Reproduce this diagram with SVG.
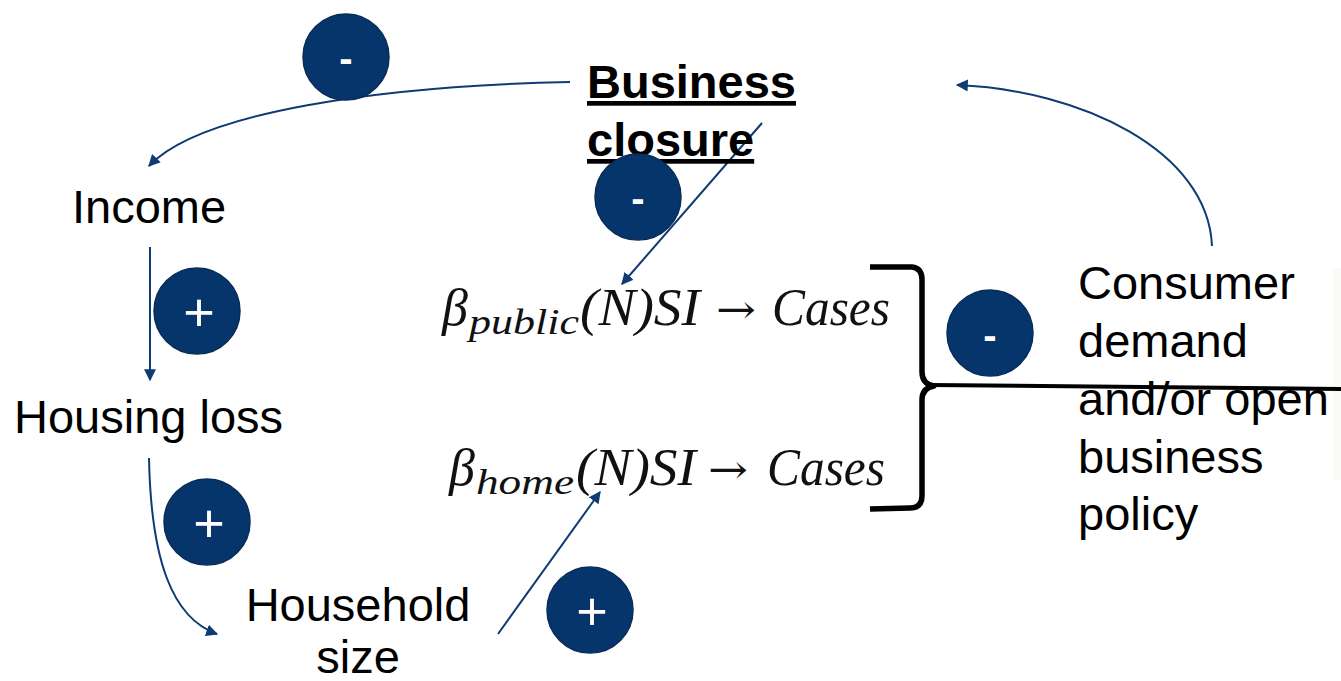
<svg xmlns="http://www.w3.org/2000/svg" width="1341" height="681" viewBox="0 0 1341 681">
<style>
.lbl{font-family:"Liberation Sans",Arial,sans-serif;font-size:47px;fill:#000}
.bold{font-weight:bold;text-decoration:underline}
.eq{font-family:"Liberation Serif","Times New Roman",serif;font-style:italic;font-size:52px;fill:#111}
.sub{font-size:36px}
.arr{font-family:"DejaVu Serif",serif;font-size:40px;fill:#111}
.sign circle{fill:#05356b;stroke:#0a2b55;stroke-width:1.5}
.sign text{font-family:"Liberation Sans",Arial,sans-serif;fill:#fff;text-anchor:middle}
.conn{fill:none;stroke:#0d3b72;stroke-width:2}
</style>
<defs>
<marker id="ahb" viewBox="0 0 10 10" refX="9" refY="5" markerWidth="12" markerHeight="12" markerUnits="userSpaceOnUse" orient="auto">
<path d="M0,0 L10,5 L0,10 z" fill="#0d3b72"/>
</marker>
</defs>
<rect width="1341" height="681" fill="#fff"/>
<rect x="1333" y="268" width="8" height="212" fill="#fafaf6"/>

<g id="connectors">
<path class="conn" d="M570,82 C380,86 200,112 149,166" marker-end="url(#ahb)"/>
<path class="conn" d="M150,247 L150,380" marker-end="url(#ahb)"/>
<path class="conn" d="M149,458 C151,560 172,618 217,634" marker-end="url(#ahb)"/>
<path class="conn" d="M498,634 L600,492" marker-end="url(#ahb)"/>
<path class="conn" d="M762,123 L622,284" marker-end="url(#ahb)"/>
<path class="conn" d="M1212,246 C1208,150 1080,90 957,85" marker-end="url(#ahb)"/>
</g>

<g id="brace">
<path d="M870,267 L912,267 Q922,268 922,280 L922,372 Q922,384 934,386 Q922,388 922,400 L922,496 Q922,508 910,508 L870,509" fill="none" stroke="#000" stroke-width="5.5" stroke-linejoin="round"/>
<path d="M930,385 L1341,389" fill="none" stroke="#000" stroke-width="4"/>
</g>

<g id="business-closure">
<text class="lbl bold" x="587" y="98">Business</text>
<text class="lbl bold" x="587" y="156">closure</text>
</g>
<g id="income"><text class="lbl" x="72" y="223">Income</text></g>
<g id="housing-loss"><text class="lbl" x="14" y="433">Housing loss</text></g>
<g id="household-size">
<text class="lbl" x="358" y="621" text-anchor="middle">Household</text>
<text class="lbl" x="358" y="673" text-anchor="middle">size</text>
</g>
<g id="consumer-demand">
<text class="lbl" x="1078" y="299">Consumer</text>
<text class="lbl" x="1078" y="357">demand</text>
<text class="lbl" x="1078" y="415">and/or open</text>
<text class="lbl" x="1078" y="473">business</text>
<text class="lbl" x="1078" y="530">policy</text>
</g>

<g id="eq-public">
<text class="eq" x="442" y="325">β</text>
<text class="eq sub" x="469" y="334" textLength="110" lengthAdjust="spacingAndGlyphs">public</text>
<text class="eq" x="580" y="325" textLength="120" lengthAdjust="spacingAndGlyphs">(N)SI</text>
<text class="arr" x="716" y="323" textLength="40" lengthAdjust="spacingAndGlyphs">→</text>
<text class="eq" x="772" y="325" textLength="118" lengthAdjust="spacingAndGlyphs">Cases</text>
</g>
<g id="eq-home">
<text class="eq" x="449" y="485">β</text>
<text class="eq sub" x="476" y="494" textLength="98" lengthAdjust="spacingAndGlyphs">home</text>
<text class="eq" x="576" y="485" textLength="120" lengthAdjust="spacingAndGlyphs">(N)SI</text>
<text class="arr" x="708" y="483" textLength="40" lengthAdjust="spacingAndGlyphs">→</text>
<text class="eq" x="767" y="485" textLength="118" lengthAdjust="spacingAndGlyphs">Cases</text>
</g>

<g id="sign-top" class="sign"><circle cx="346" cy="57" r="43"/><text x="346" y="72" font-size="40" font-weight="bold">-</text></g>
<g id="sign-business" class="sign"><circle cx="638" cy="197" r="43"/><text x="638" y="212" font-size="40" font-weight="bold">-</text></g>
<g id="sign-income" class="sign"><circle cx="197" cy="311" r="43"/><text x="199" y="331" font-size="54">+</text></g>
<g id="sign-housing" class="sign"><circle cx="207" cy="522" r="43"/><text x="209" y="542" font-size="54">+</text></g>
<g id="sign-household" class="sign"><circle cx="590" cy="610" r="43"/><text x="592" y="630" font-size="54">+</text></g>
<g id="sign-consumer" class="sign"><circle cx="990" cy="333" r="43"/><text x="990" y="349" font-size="40" font-weight="bold">-</text></g>
</svg>
